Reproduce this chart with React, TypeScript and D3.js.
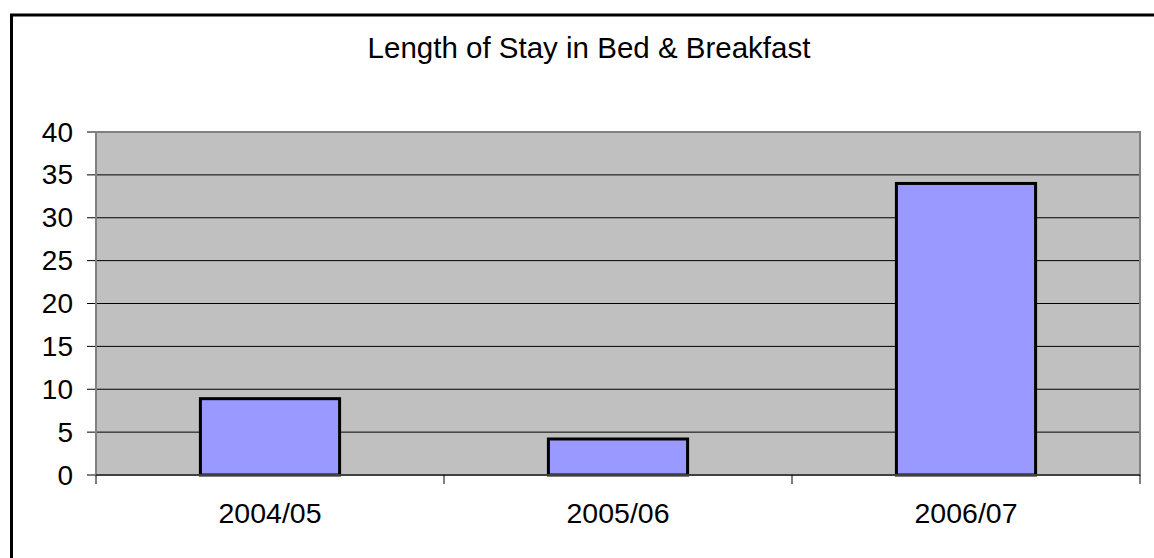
import * as d3 from "d3";
import React from "react";

const categories = ["2004/05", "2005/06", "2006/07"];
const values = [8.9, 4.2, 34.0];
const yTicks = [0, 5, 10, 15, 20, 25, 30, 35, 40];
const title = "Length of Stay in Bed & Breakfast";

const App = () => {
  const width = 1154;
  const height = 558;
  const plot = { left: 96, right: 1140, top: 132, bottom: 475 };
  const font = "'Liberation Sans', Arial, sans-serif";

  const xScale = d3
    .scaleBand()
    .domain(categories)
    .range([plot.left, plot.right])
    .paddingInner(0.6)
    .paddingOuter(0.3);

  const yScale = d3.scaleLinear().domain([0, 40]).range([plot.bottom, plot.top]);

  const step = xScale.step();
  const boundaries = categories.map((_, i) => plot.left + i * step).concat([plot.right]);

  return (
    <svg
      width={width}
      height={height}
      style={{ position: "absolute", left: 0, top: 0, background: "#fff" }}
    >
      {/* chart border, runs off the right and bottom edges */}
      <rect x={11.5} y={15} width={1160} height={560} fill="#fff" stroke="#000" strokeWidth={3} />

      <text x={589} y={58} textAnchor="middle" fontFamily={font} fontSize={29.5} fill="#000">
        {title}
      </text>

      <rect
        x={plot.left}
        y={plot.top}
        width={plot.right - plot.left}
        height={plot.bottom - plot.top}
        fill="#c0c0c0"
      />

      {yTicks.map((t) => (
        <g key={t}>
          {t > 0 && t < 40 && (
            <line x1={plot.left} x2={plot.right} y1={yScale(t)} y2={yScale(t)} stroke="#000" strokeWidth={1} />
          )}
          <line x1={87} x2={plot.left} y1={yScale(t)} y2={yScale(t)} stroke="#000" strokeWidth={1} />
          <text
            x={73}
            y={yScale(t)}
            textAnchor="end"
            dominantBaseline="central"
            fontFamily={font}
            fontSize={28}
            fill="#000"
          >
            {t}
          </text>
        </g>
      ))}

      <rect
        x={plot.left}
        y={plot.top}
        width={plot.right - plot.left}
        height={plot.bottom - plot.top}
        fill="none"
        stroke="#808080"
        strokeWidth={2}
      />

      {categories.map((c, i) => (
        <rect
          key={c}
          x={xScale(c)}
          y={yScale(values[i])}
          width={xScale.bandwidth()}
          height={yScale(0) - yScale(values[i])}
          fill="#9999ff"
          stroke="#000"
          strokeWidth={3}
        />
      ))}

      <line x1={plot.left} x2={plot.right} y1={plot.bottom} y2={plot.bottom} stroke="#404040" strokeWidth={2} />

      {boundaries.map((b, i) => (
        <line key={i} x1={b} x2={b} y1={plot.bottom} y2={484} stroke="#000" strokeWidth={1} />
      ))}

      {categories.map((c) => (
        <text
          key={c}
          x={(xScale(c) as number) + xScale.bandwidth() / 2}
          y={523}
          textAnchor="middle"
          fontFamily={font}
          fontSize={28.5}
          fill="#000"
        >
          {c}
        </text>
      ))}
    </svg>
  );
};

export default App;
